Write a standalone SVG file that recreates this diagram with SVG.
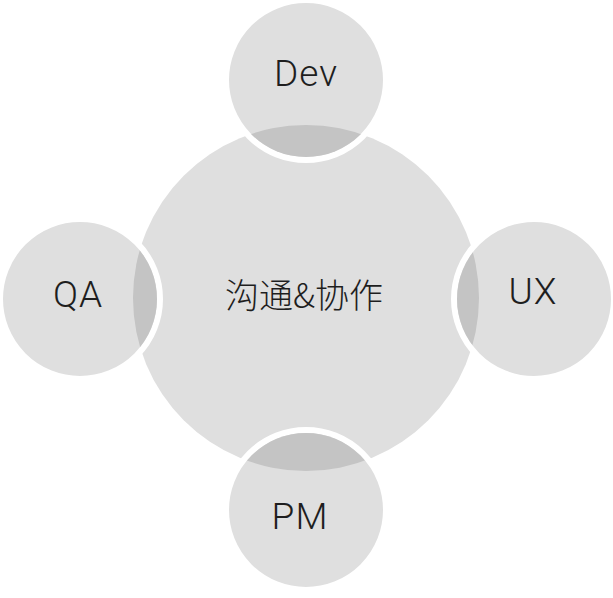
<svg xmlns="http://www.w3.org/2000/svg" width="613" height="598" viewBox="0 0 613 598">
  <style>
    .base { fill: #dfdfdf; }
    .sat { fill: #dfdfdf; stroke: #ffffff; stroke-width: 6; }
    .overlap { fill: #c4c4c4; }
    .label { font-family: "Roboto", "Liberation Sans", "Noto Sans CJK SC", sans-serif; font-weight: 300; font-size: 37px; letter-spacing: 1px; fill: #1e1e1e; text-anchor: middle; }
    .cjk { font-family: "Noto Sans CJK SC", sans-serif; font-weight: 300; font-size: 34px; fill: #1e1e1e; text-anchor: middle; }
  </style>
  <defs>
    <circle id="center-shape" cx="306" cy="298" r="173"/>
    <clipPath id="clip-dev"><circle cx="306" cy="80" r="77"/></clipPath>
    <clipPath id="clip-qa"><circle cx="80" cy="299" r="77"/></clipPath>
    <clipPath id="clip-ux"><circle cx="534" cy="299" r="77"/></clipPath>
    <clipPath id="clip-pm"><circle cx="306" cy="510" r="77"/></clipPath>
  </defs>
  <rect width="613" height="598" fill="#ffffff"/>
  <g id="connectors"></g>
  <g id="center">
    <use href="#center-shape" class="base"/>
    <text class="cjk" x="304" y="308">沟通&amp;协作</text>
  </g>
  <g id="dev">
    <circle class="sat" cx="306" cy="80" r="80"/>
    <use href="#center-shape" class="overlap" clip-path="url(#clip-dev)"/>
    <text class="label" x="306" y="86">Dev</text>
  </g>
  <g id="qa">
    <circle class="sat" cx="80" cy="299" r="80"/>
    <use href="#center-shape" class="overlap" clip-path="url(#clip-qa)"/>
    <text class="label" x="78" y="307">QA</text>
  </g>
  <g id="ux">
    <circle class="sat" cx="534" cy="299" r="80"/>
    <use href="#center-shape" class="overlap" clip-path="url(#clip-ux)"/>
    <text class="label" x="533" y="304">UX</text>
  </g>
  <g id="pm">
    <circle class="sat" cx="306" cy="510" r="80"/>
    <use href="#center-shape" class="overlap" clip-path="url(#clip-pm)"/>
    <text class="label" x="300" y="529">PM</text>
  </g>
</svg>
